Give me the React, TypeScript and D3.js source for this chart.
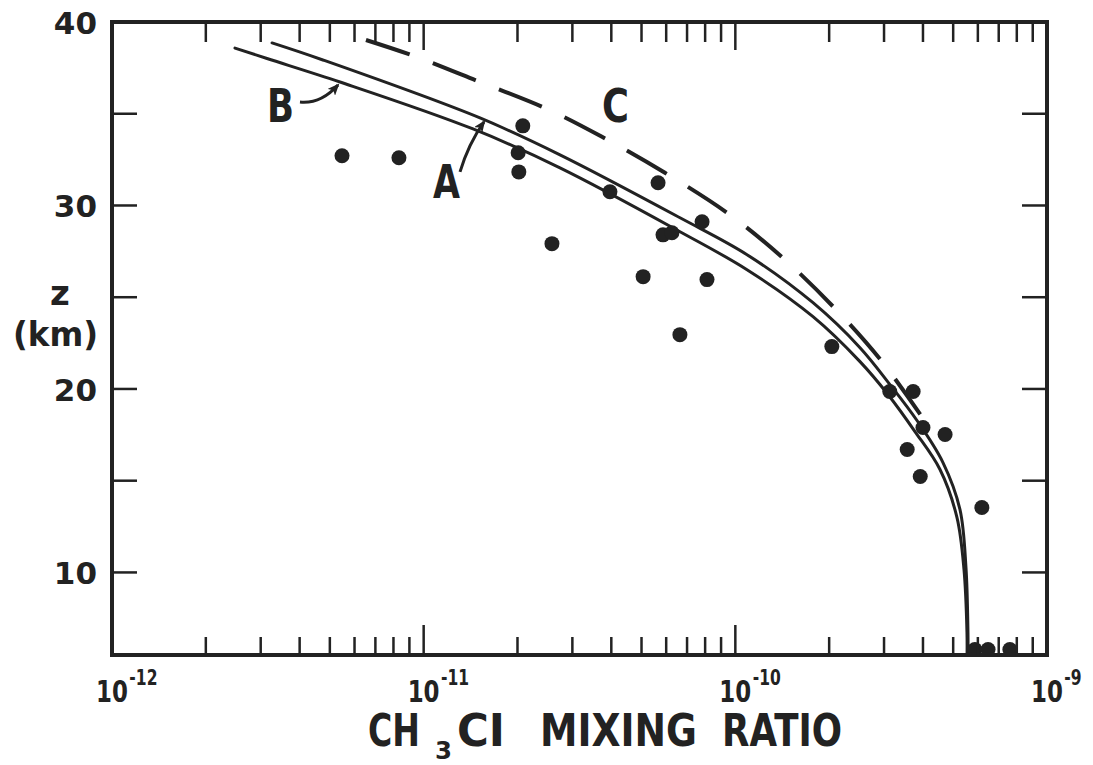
import React from "react";
import * as d3 from "d3";

// ---------- data ----------
const xDomain: [number, number] = [1e-12, 1e-9];
const yDomain: [number, number] = [5.5, 40];

const yTickValues = [10, 15, 20, 25, 30, 35];
const yLabelValues = [10, 20, 30, 40];
const xMajorValues = [1e-12, 1e-11, 1e-10, 1e-9];
const xMajorExponents = ["-12", "-11", "-10", "-9"];

// Curve A (upper solid)
const curveARatio = [3.262e-12, 4.75e-12, 1.516e-11, 2.738e-11, 6.645e-11, 1.09e-10, 1.775e-10, 2.512e-10, 3.134e-10, 3.827e-10, 4.637e-10, 5.256e-10, 5.495e-10, 5.577e-10, 5.58e-10];
const curveAZ = [38.86, 37.93, 34.77, 32.76, 29.33, 27.32, 24.7, 22.25, 20.24, 18.28, 15.99, 13.44, 10.28, 6.74, 5.5];

// Curve B (lower solid)
const curveBRatio = [2.481e-12, 3.143e-12, 5.389e-12, 1.44e-11, 2.738e-11, 6.645e-11, 1.09e-10, 1.775e-10, 2.512e-10, 3.088e-10, 3.77e-10, 4.536e-10, 5.141e-10, 5.415e-10, 5.536e-10, 5.54e-10];
const curveBZ = [38.58, 38.01, 36.73, 34.17, 32.05, 28.57, 26.5, 23.94, 21.49, 19.7, 17.68, 15.61, 13.0, 10.17, 6.74, 5.5];

// Curve C (dashed)
const curveCRatio = [6.53e-12, 9.52e-12, 1.516e-11, 2.487e-11, 3.734e-11, 5.945e-11, 9.61e-11, 1.443e-10, 2.135e-10, 2.955e-10, 3.92e-10];
const curveCZ = [39.02, 38.09, 36.73, 35.26, 33.74, 31.78, 29.49, 27.04, 24.21, 21.49, 18.61];

// Observations
const obsRatio = [5.47e-12, 8.33e-12, 2.08e-11, 2.01e-11, 2.02e-11, 2.58e-11, 3.96e-11, 5.65e-11, 5.86e-11, 6.26e-11, 7.82e-11, 5.06e-11, 8.11e-11, 6.64e-11, 2.04e-10, 3.13e-10, 3.72e-10, 4.0e-10, 4.71e-10, 3.56e-10, 3.92e-10, 6.18e-10, 5.87e-10, 6.47e-10, 7.6e-10];
const obsZ = [32.71, 32.6, 34.34, 32.87, 31.83, 27.92, 30.75, 31.24, 28.4, 28.51, 29.11, 26.12, 25.96, 22.96, 22.31, 19.86, 19.86, 17.9, 17.52, 16.7, 15.23, 13.54, 5.8, 5.8, 5.8];

// Curve labels and arrows
const labelText = ["B", "A", "C"];
const labelRatio = [3.46e-12, 1.179e-11, 4.11e-11];
const labelZ = [34.56, 30.42, 34.56];
const arrowStartRatio = [4.01e-12, 1.308e-11];
const arrowStartZ = [35.64, 31.83];
const arrowEndRatio = [5.31e-12, 1.562e-11];
const arrowEndZ = [36.57, 34.56];

const FONT = "'DejaVu Sans', 'Liberation Sans', sans-serif";

export default function App() {
  const x = d3.scaleLog().domain(xDomain).range([112, 1047]);
  const y = d3.scaleLinear().domain(yDomain).range([655, 22]);
  const [x0, x1] = x.range();
  const [y0, y1] = y.range(); // y0 bottom, y1 top

  const line = d3
    .line<[number, number]>()
    .x((d) => x(d[0]))
    .y((d) => y(d[1]))
    .curve(d3.curveCatmullRom.alpha(0.5));

  const zip = (a: number[], b: number[]) => a.map((v, i) => [v, b[i]] as [number, number]);

  const pathA = line(zip(curveARatio, curveAZ)) || "";
  const pathB = line(zip(curveBRatio, curveBZ)) || "";
  const pathC = line(zip(curveCRatio, curveCZ)) || "";

  const allTicks = x.ticks().filter((t) => t > xDomain[0] * 1.001 && t < xDomain[1] * 0.999);
  const isMajor = (t: number) => Math.abs(Math.log10(t) - Math.round(Math.log10(t))) < 1e-6;

  const arrows = arrowStartRatio.map((r, i) => {
    const sx = x(r), sy = y(arrowStartZ[i]);
    const ex = x(arrowEndRatio[i]), ey = y(arrowEndZ[i]);
    const cx = i === 0 ? sx + (ex - sx) * 0.55 : sx + (ex - sx) * 0.35;
    const cy = i === 0 ? sy + 2 : ey + 22;
    return `M${sx},${sy} Q${cx},${cy} ${ex},${ey}`;
  });

  return (
    <svg
      width={1093}
      height={765}
      viewBox="0 0 1093 765"
      style={{ position: "absolute", left: 0, top: 0, background: "#fff" }}
    >
      <defs>
        <marker id="ah" viewBox="0 0 12 10" refX="10" refY="5" markerWidth="12" markerHeight="10" markerUnits="userSpaceOnUse" orient="auto">
          <path d="M0,0 L12,5 L0,10 L3,5 Z" fill="#222" />
        </marker>
        <clipPath id="plot">
          <rect x={x0} y={y1} width={x1 - x0} height={y0 - y1} />
        </clipPath>
      </defs>
      <rect width={1093} height={765} fill="#fff" />

      {/* curves */}
      <g fill="none" stroke="#222" strokeLinecap="round" clipPath="url(#plot)">
        <path d={pathA} strokeWidth={3} />
        <path d={pathB} strokeWidth={3} />
        <path d={pathC} strokeWidth={4} strokeDasharray="46 25" strokeLinecap="butt" />
      </g>

      {/* observations */}
      <g fill="#222" clipPath="url(#plot)">
        {obsRatio.map((r, i) => (
          <circle key={i} cx={x(r)} cy={y(obsZ[i])} r={7.5} />
        ))}
      </g>

      {/* frame */}
      <rect x={x0} y={y1} width={x1 - x0} height={y0 - y1} fill="none" stroke="#222" strokeWidth={4} />

      {/* ticks */}
      <g stroke="#222" strokeWidth={2.5}>
        {allTicks.map((t, i) => {
          const major = isMajor(t);
          return (
            <g key={i}>
              <line x1={x(t)} x2={x(t)} y1={y0} y2={y0 - (major ? 30 : 18)} />
              <line x1={x(t)} x2={x(t)} y1={y1} y2={y1 + (major ? 28 : 20)} />
            </g>
          );
        })}
        {yTickValues.map((v, i) => (
          <g key={"y" + i}>
            <line x1={x0} x2={x0 + 25} y1={y(v)} y2={y(v)} />
            <line x1={x1} x2={x1 - 25} y1={y(v)} y2={y(v)} />
          </g>
        ))}
      </g>

      {/* y tick labels */}
      <g fontFamily={FONT} fontWeight="bold" fontSize={31} fill="#222" textAnchor="end">
        {yLabelValues.map((v, i) => (
          <text key={i} x={x0 - 15} y={y(v) + 12}>
            {v}
          </text>
        ))}
      </g>

      {/* x tick labels */}
      <g fontFamily={FONT} fontWeight="bold" fill="#222">
        {xMajorValues.map((v, i) => (
          <text key={i} transform={`translate(${x(v) - 16},702) scale(0.74,1)`} fontSize={31}>
            <tspan>10</tspan>
            <tspan dy={-17} dx={2} fontSize={21}>
              {xMajorExponents[i]}
            </tspan>
          </text>
        ))}
      </g>

      {/* axis titles */}
      <g fontFamily={FONT} fontWeight="bold" fill="#222">
        <text x={368} y={746} fontSize={44} textLength={52} lengthAdjust="spacingAndGlyphs">CH</text>
        <text x={435} y={759} fontSize={24} textLength={17} lengthAdjust="spacingAndGlyphs">3</text>
        <text x={457} y={746} fontSize={44} textLength={48} lengthAdjust="spacingAndGlyphs">CI</text>
        <text x={540} y={746} fontSize={44} textLength={157} lengthAdjust="spacingAndGlyphs">MIXING</text>
        <text x={722} y={746} fontSize={44} textLength={120} lengthAdjust="spacingAndGlyphs">RATIO</text>

        <text x={60} y={305} fontSize={34} textAnchor="middle">z</text>
        <text x={13} y={346} fontSize={33} textLength={85} lengthAdjust="spacingAndGlyphs">(km)</text>
      </g>

      {/* curve labels */}
      <g fontFamily={FONT} fontWeight="bold" fill="#222">
        {labelText.map((t, i) => (
          <text key={i} x={x(labelRatio[i]) - 13} y={y(labelZ[i])} fontSize={46} textLength={27} lengthAdjust="spacingAndGlyphs">
            {t}
          </text>
        ))}
      </g>
      <g fill="none" stroke="#222" strokeWidth={3}>
        {arrows.map((d, i) => (
          <path key={i} d={d} markerEnd="url(#ah)" />
        ))}
      </g>
    </svg>
  );
}
